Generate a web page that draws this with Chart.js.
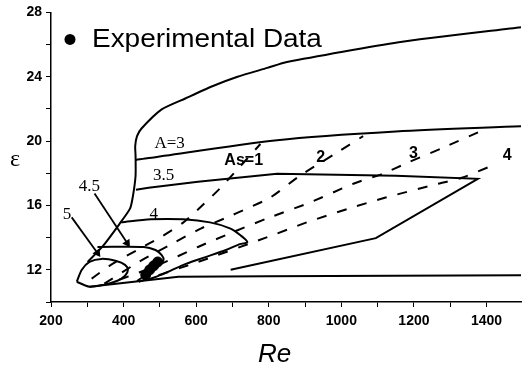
<!DOCTYPE html>
<html><head><meta charset="utf-8">
<script src="https://cdn.jsdelivr.net/npm/chart.js@4.4.1/dist/chart.umd.min.js"></script>
<style>html,body{margin:0;padding:0;background:#fff;}canvas{display:block;}</style>
</head><body>
<canvas id="c" width="527" height="368" style="width:527px;height:368px"></canvas>
<script>
// ---------- data (Re, epsilon) ----------
const outerRe  = [301, 341, 388, 418, 426, 433, 433, 432, 437, 450, 505, 570, 641, 714, 796, 850, 1158, 1495];
const outerEps = [12.49, 13.42, 14.83, 15.82, 16.62, 17.85, 19.08, 19.69, 20.31, 20.8, 21.97, 22.65, 23.38, 24.0, 24.55, 24.92, 26.15, 27.08];

const a3Re  = [434, 469, 823, 1150, 1495];
const a3Eps = [18.83, 18.95, 20.06, 20.6, 20.92];

const a35Re  = [434, 469, 605, 823, 1150, 1376, 1095, 695];
const a35Eps = [16.98, 17.1, 17.48, 17.97, 17.85, 17.66, 13.97, 12.0];

const a4Re  = [393, 475, 565, 638, 693, 722, 741, 720, 682, 619, 565, 510, 469];
const a4Eps = [14.95, 15.14, 15.14, 14.95, 14.58, 14.15, 13.72, 13.6, 13.23, 12.74, 12.31, 11.75, 11.4];

const a45Re  = [328, 456, 488, 505, 510, 497, 469, 437];
const a45Eps = [13.42, 13.42, 13.23, 12.92, 12.62, 12.25, 11.82, 11.3];

const a5Re  = [271, 285, 306, 339, 380, 404, 412, 404, 383, 347, 306, 271];
const a5Eps = [11.26, 12.0, 12.49, 12.68, 12.55, 12.31, 12.0, 11.63, 11.32, 11.08, 10.95, 11.26];

const baseRe  = [306, 551, 796, 1495];
const baseEps = [10.95, 11.57, 11.6, 11.66];

const as1Re  = [312, 361, 442, 502, 565, 605, 665, 720, 777];
const as1Eps = [11.45, 12.25, 13.29, 14.03, 14.95, 15.75, 17.05, 18.4, 19.82];
const as2Re  = [347, 442, 537, 614, 679, 741, 804, 886, 986, 1060];
const as2Eps = [11.14, 12.49, 13.66, 14.58, 15.2, 15.82, 16.49, 17.85, 19.26, 20.31];
const as3Re  = [388, 497, 605, 701, 796, 913, 1033, 1114, 1182, 1278, 1403];
const as3Eps = [11.38, 12.31, 13.42, 14.34, 15.2, 16.18, 17.35, 17.97, 18.65, 19.57, 20.8];
const as4Re  = [442, 605, 796, 905, 1022, 1122, 1267, 1332, 1414];
const as4Eps = [11.26, 12.49, 14.03, 14.95, 15.82, 16.49, 17.35, 17.72, 18.46];

const expRe  = [461, 472, 483, 494];
const expEps = [11.69, 12.0, 12.25, 12.49];

const arrow45Re  = [320, 410];
const arrow45Eps = [16.74, 13.66];
const arrow5Re   = [257, 328];
const arrow5Eps  = [15.26, 13.05];

const serifLabels = ['A=3', '3.5', '4', '4.5', '5'];
const serifRe     = [527, 510, 483, 306, 244];
const serifEps    = [19.82, 17.85, 15.45, 17.17, 15.45];
const sansLabels  = ['As=1', '2', '3', '4'];
const sansRe      = [731, 943, 1199, 1457];
const sansEps     = [18.77, 18.95, 19.2, 19.08];

const xTicks = [200, 300, 400, 500, 600, 700, 800, 900, 1000, 1100, 1200, 1300, 1400];
const yTicks = [10, 12, 14, 16, 18, 20, 22, 24, 26, 28];
const legendLabel = 'Experimental Data';
const xTitle = 'Re';
const yTitle = 'ε';

// ---------- build ----------
const pts = (xs, ys) => xs.map((v, i) => ({x: v, y: ys[i]}));
const solid = (xs, ys, tension) => ({data: pts(xs, ys), borderColor: '#000', borderWidth: 2, pointRadius: 0, fill: false, tension: tension});
const dashed = (xs, ys) => ({data: pts(xs, ys), borderColor: '#000', borderWidth: 2, borderDash: [10, 11], pointRadius: 0, fill: false, tension: 0.25});
function arrowRot(xs, ys) {
  return (c) => {
    const sx = c.chart.scales.x, sy = c.chart.scales.y;
    if (!sx || !sy) return 0;
    const dx = sx.getPixelForValue(xs[1]) - sx.getPixelForValue(xs[0]);
    const dy = sy.getPixelForValue(ys[1]) - sy.getPixelForValue(ys[0]);
    return Math.atan2(dx, -dy) * 180 / Math.PI;
  };
}
const arrow = (xs, ys) => ({data: pts(xs, ys), borderColor: '#000', borderWidth: 1.8, backgroundColor: '#000',
  pointRadius: [0, 5], pointStyle: 'triangle', pointRotation: arrowRot(xs, ys), pointBorderWidth: 0, fill: false, tension: 0});

const datasets = [
  solid(outerRe, outerEps, 0.2),
  solid(a3Re, a3Eps, 0.3),
  solid(a35Re, a35Eps, 0),
  solid(a4Re, a4Eps, 0.3),
  solid(a45Re, a45Eps, 0.3),
  solid(a5Re, a5Eps, 0.3),
  solid(baseRe, baseEps, 0),
  dashed(as1Re, as1Eps),
  dashed(as2Re, as2Eps),
  dashed(as3Re, as3Eps),
  dashed(as4Re, as4Eps),
  arrow(arrow45Re, arrow45Eps),
  arrow(arrow5Re, arrow5Eps),
  {label: legendLabel, data: pts(expRe, expEps), showLine: false, pointRadius: 5, pointBackgroundColor: '#000', pointBorderColor: '#000', borderColor: '#000'}
];

const decor = {
  id: 'decor',
  afterDatasetsDraw(chart) {
    const {ctx, chartArea: ca, scales: {x, y}} = chart;
    ctx.save();
    ctx.fillStyle = '#000';
    ctx.textAlign = 'center';
    ctx.textBaseline = 'middle';
    ctx.font = '17px "Liberation Serif"';
    serifLabels.forEach((t, i) => ctx.fillText(t, x.getPixelForValue(serifRe[i]), y.getPixelForValue(serifEps[i])));
    ctx.font = 'bold 16px "Liberation Sans"';
    sansLabels.forEach((t, i) => ctx.fillText(t, x.getPixelForValue(sansRe[i]), y.getPixelForValue(sansEps[i])));
    // legend
    ctx.beginPath();
    ctx.arc(ca.left + 19, ca.top + 27, 5.5, 0, Math.PI * 2);
    ctx.fill();
    ctx.textAlign = 'left';
    ctx.textBaseline = 'alphabetic';
    ctx.font = '26px "Liberation Sans"';
    ctx.save();
    ctx.translate(ca.left + 41, ca.top + 35);
    ctx.scale(1.075, 1);
    ctx.fillText(legendLabel, 0, 0);
    ctx.restore();
    // axis titles
    ctx.font = 'italic 26px "Liberation Sans"';
    ctx.fillText(xTitle, ca.left + 207, chart.height - 6);
    ctx.textAlign = 'center';
    ctx.textBaseline = 'middle';
    ctx.font = '24px "Liberation Serif"';
    ctx.fillText(yTitle, 15, (ca.top + ca.bottom) / 2 + 3);
    ctx.restore();
  }
};

new Chart(document.getElementById('c'), {
  type: 'line',
  data: {datasets},
  plugins: [decor],
  options: {
    responsive: false, animation: false, devicePixelRatio: 1,
    layout: {padding: {top: 10, right: 0, bottom: 0, left: 0}},
    plugins: {legend: {display: false}, tooltip: {enabled: false}},
    scales: {
      x: {
        type: 'linear', min: 200, max: 1495,
        afterFit(s) { s.height = 66; },
        afterBuildTicks(s) { s.ticks = xTicks.map(v => ({value: v})); },
        ticks: {callback: v => (v % 200 === 0 ? String(v) : ''), autoSkip: false, maxRotation: 0, padding: 6,
                color: '#000', font: {family: 'Liberation Sans', size: 14, weight: 'bold'}},
        grid: {drawOnChartArea: false, color: '#000', tickLength: 5},
        border: {display: true, color: '#000', width: 1.5}
      },
      y: {
        type: 'linear', min: 10, max: 28,
        afterFit(s) { s.width = 51; },
        afterBuildTicks(s) { s.ticks = yTicks.map(v => ({value: v})); },
        ticks: {callback: v => (v >= 12 && v % 4 === 0 ? String(v) : ''), autoSkip: false, padding: 4,
                color: '#000', font: {family: 'Liberation Sans', size: 14, weight: 'bold'}},
        grid: {drawOnChartArea: false, color: '#000', tickLength: 5},
        border: {display: true, color: '#000', width: 1.5}
      }
    }
  }
});
</script>
</body></html>
